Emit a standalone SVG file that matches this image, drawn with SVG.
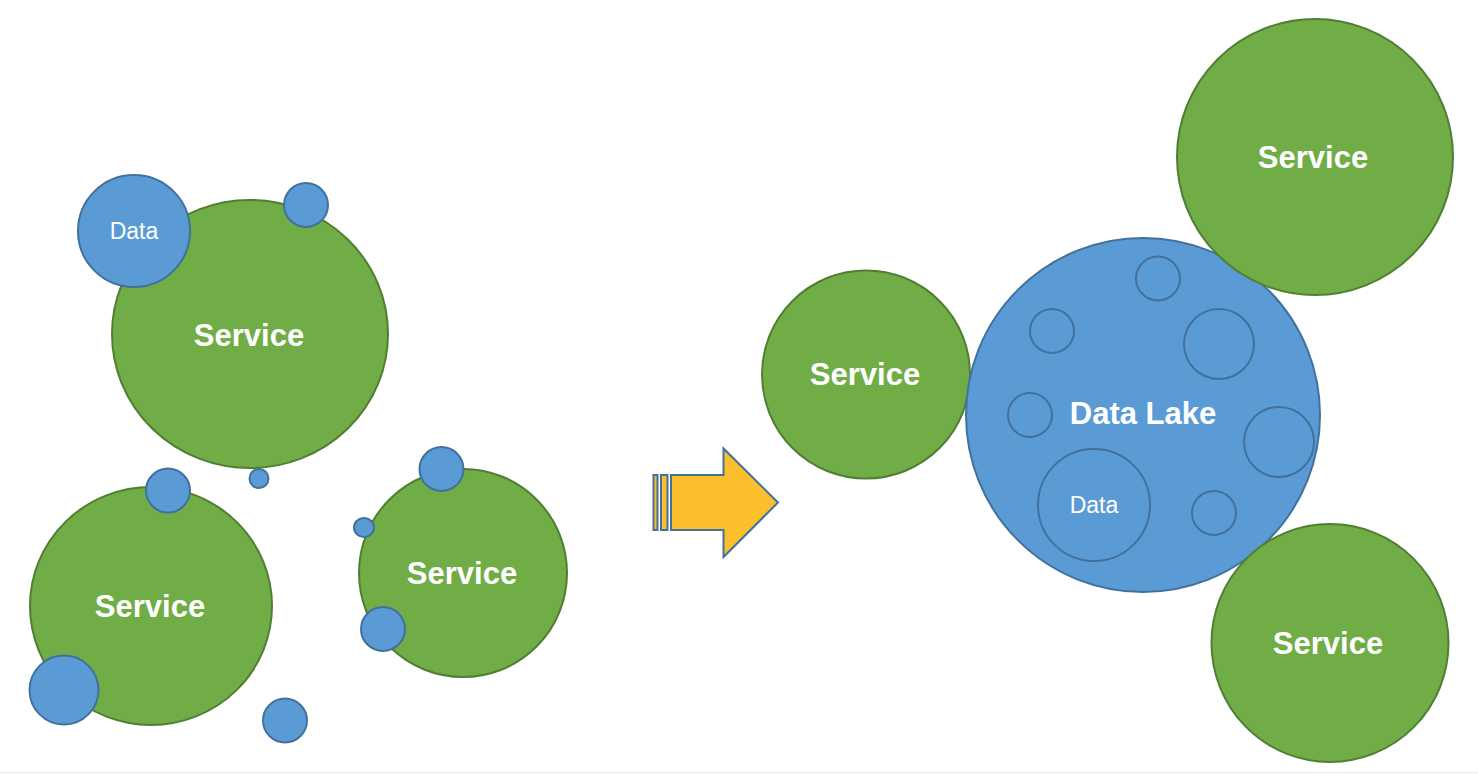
<svg xmlns="http://www.w3.org/2000/svg" width="1478" height="774" viewBox="0 0 1478 774">
<style>
.svc{fill:#70AD47;stroke:#507E32;stroke-width:2}
.dat{fill:#5B9BD5;stroke:#41719C;stroke-width:2}
.inner{fill:none;stroke:#41719C;stroke-width:2}
.lbl{font-family:"Liberation Sans",Arial,sans-serif;font-weight:bold;font-size:31px;fill:#FFFFFF;text-anchor:middle}
.dlbl{font-family:"Liberation Sans",Arial,sans-serif;font-size:23px;fill:#FFFFFF;text-anchor:middle}
.arrow{fill:#FBBF2D;stroke:#41719C;stroke-width:2}
</style>
<rect x="0" y="0" width="1478" height="774" fill="#FFFFFF"/>
<line x1="0" y1="772.5" x2="1478" y2="772.5" stroke="#E6E6E6" stroke-width="1"/>

<g id="service-top-left">
<ellipse class="svc" cx="250" cy="334" rx="138" ry="134"/>
<text class="lbl" x="249" y="346">Service</text>
</g>
<g id="data-top-left">
<circle class="dat" cx="134" cy="231" r="56"/>
<text class="dlbl" x="134" y="239">Data</text>
</g>
<g id="data-small-1"><circle class="dat" cx="306" cy="205" r="22"/></g>
<g id="data-tiny-1"><circle class="dat" cx="259" cy="478.5" r="9.5"/></g>

<g id="service-bottom-left">
<ellipse class="svc" cx="151" cy="606" rx="121" ry="119"/>
<text class="lbl" x="150" y="617">Service</text>
</g>
<g id="data-small-2"><circle class="dat" cx="168" cy="490.5" r="22"/></g>
<g id="data-medium-1"><circle class="dat" cx="64" cy="690" r="34.5"/></g>
<g id="data-small-3"><circle class="dat" cx="285" cy="720.5" r="22"/></g>

<g id="service-bottom-middle">
<circle class="svc" cx="463" cy="573" r="104"/>
<text class="lbl" x="462" y="584">Service</text>
</g>
<g id="data-small-4"><circle class="dat" cx="441.5" cy="469" r="22"/></g>
<g id="data-tiny-2"><ellipse class="dat" cx="364" cy="527.5" rx="10" ry="9.5"/></g>
<g id="data-small-5"><circle class="dat" cx="383" cy="629" r="22"/></g>

<g id="arrow">
<rect class="arrow" x="653.5" y="475" width="4" height="55"/>
<rect class="arrow" x="661" y="475" width="6.5" height="55"/>
<polygon class="arrow" points="671,475 723.5,475 723.5,448.5 778,502.5 723.5,557 723.5,530 671,530"/>
</g>

<g id="service-middle-right">
<circle class="svc" cx="866" cy="374.5" r="104"/>
<text class="lbl" x="865" y="385">Service</text>
</g>

<g id="data-lake">
<circle class="dat" cx="1143" cy="415" r="177"/>
<circle class="inner" cx="1158" cy="278.5" r="22"/>
<circle class="inner" cx="1052" cy="331" r="22"/>
<circle class="inner" cx="1219" cy="344" r="35"/>
<circle class="inner" cx="1030" cy="415" r="22"/>
<circle class="inner" cx="1279" cy="442" r="35"/>
<circle class="inner" cx="1214" cy="513" r="22"/>
<circle class="inner" cx="1094" cy="505" r="56"/>
<text class="lbl" x="1143" y="424">Data Lake</text>
<text class="dlbl" x="1094" y="513">Data</text>
</g>

<g id="service-top-right">
<circle class="svc" cx="1315" cy="157" r="138"/>
<text class="lbl" x="1313" y="168">Service</text>
</g>
<g id="service-bottom-right">
<ellipse class="svc" cx="1330" cy="643" rx="118.5" ry="119"/>
<text class="lbl" x="1328" y="654">Service</text>
</g>
<g id="connectors"></g>
</svg>
